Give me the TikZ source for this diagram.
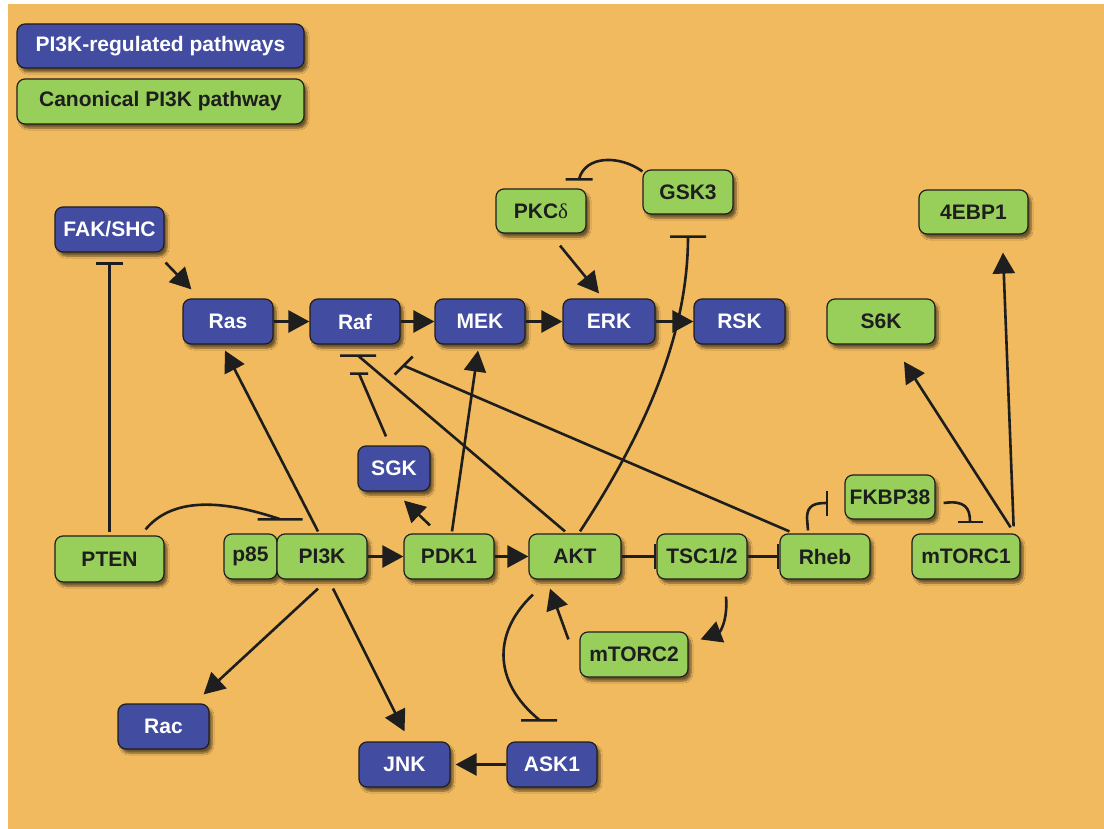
\documentclass[tikz,border=0pt]{standalone}
\usepackage{fontspec}
\setmainfont{Liberation Sans}
\newfontfamily\grk{Liberation Serif}
\usetikzlibrary{arrows.meta,calc,shadows.blur}
\definecolor{bg}{RGB}{241,186,94}
\definecolor{bluebox}{RGB}{66,76,160}
\definecolor{greenbox}{RGB}{152,207,90}
\definecolor{ink}{RGB}{30,30,30}
\tikzset{
  box/.style={draw=ink, line width=1.2pt, rounded corners=8pt, minimum height=45pt, minimum width=90pt,
    inner sep=0pt, font=\fontsize{21}{24}\selectfont\bfseries,
    blur shadow={shadow xshift=3pt, shadow yshift=-4pt, shadow blur steps=6, shadow opacity=55}},
  bb/.style={box, fill=bluebox, text=white},
  gb/.style={box, fill=greenbox, text=ink},
  ln/.style={draw=ink, line width=2.6pt},
  arr/.style={ln, -{Triangle[length=21pt,width=22pt]}},
  inh/.style={ln, -{Bar[width=25pt,line width=2.6pt]}}
}
\begin{document}
\begin{tikzpicture}[x=1pt,y=-1pt]
\useasboundingbox (0,0) rectangle (1104,829);
\fill[white] (0,0) rectangle (1104,829);
\fill[bg] (7.5,4.5) rectangle (1104,829);

% legend
\node[bb, minimum width=287pt, minimum height=44pt] (leg1) at (160.5,46) {PI3K-regulated pathways};
\node[gb, minimum width=287pt] (leg2) at (160.5,101.5) {Canonical PI3K pathway};

% nodes
\node[bb, minimum width=109pt] (fak) at (109.5,229.5) {FAK/SHC};
\node[bb] (ras) at (228,321.5) {Ras};
\node[bb] (raf) at (355,321.5) {Raf};
\node[bb] (mek) at (480,321.5) {MEK};
\node[bb, minimum width=92pt] (erk) at (609,321.5) {ERK};
\node[bb, minimum width=91pt] (rsk) at (739.5,321.5) {RSK};
\node[gb, minimum height=44pt] (pkc) at (541,211) {PKC{\grk\mdseries δ}};
\node[gb, minimum height=44pt] (gsk) at (688,192) {GSK3};
\node[gb, minimum width=109pt, minimum height=44pt] (ebp) at (973.5,212) {4EBP1};
\node[gb, minimum width=108pt] (s6k) at (881,321.5) {S6K};
\node[bb, minimum width=72pt] (sgk) at (394,468.5) {SGK};
\node[gb, minimum width=109pt, minimum height=46pt] (pten) at (109.5,559) {PTEN};
\node[gb, minimum width=53pt] (p85) at (250.5,556.5) {p85};
\node[gb] (pi3k) at (322,556.5) {PI3K};
\node[gb] (pdk1) at (449,556.5) {PDK1};
\node[gb, minimum width=92pt] (akt) at (575,556.5) {AKT};
\node[gb] (tsc) at (702,556.5) {TSC1/2};
\node[gb] (rheb) at (825,556.5) {Rheb};
\node[gb, minimum height=44pt] (fkbp) at (890,497) {FKBP38};
\node[gb, minimum width=108pt] (mtorc1) at (966,556.5) {mTORC1};
\node[gb, minimum width=108pt] (mtorc2) at (634,654.5) {mTORC2};
\node[bb, minimum width=91pt] (rac) at (163.5,726.5) {Rac};
\node[bb, minimum width=91pt] (jnk) at (404.5,764.5) {JNK};
\node[bb] (ask1) at (552,764.5) {ASK1};

% MAPK chain
\draw[arr] ($(fak.south east)+(1,10)$) -- ($(ras.north west)+(9,-9)$);
\draw[arr] (ras.east) -- (raf.west);
\draw[arr] (raf.east) -- (mek.west);
\draw[arr] (mek.east) -- (erk.west);
\draw[arr] (erk.east) -- (rsk.west);
\draw[arr] ($(pkc.south)+(19,12)$) -- ($(erk.north)+(-10,-5)$);

% GSK3 -| PKCdelta
\draw[ln] ($(gsk.north west)+(0,2)$) .. controls (620,155) and (585,155) .. ($(pkc.north)+(38,-9)$)
  ++(-13.5,0) -- ++(27,0);
% AKT -| GSK3
\draw[ln] ($(akt.north)+(5,-2)$) .. controls (640,440) and (688,340) .. ($(gsk.south)+(0,22)$)
  ++(-18,0) -- ++(36,0);

% PI3K / PDK1 activations
\draw[arr] ($(pi3k.north)+(-4,-2)$) -- ($(ras.south)+(-3,6)$);
\draw[arr] ($(pdk1.north)+(3,-2)$) -- ($(mek.south)+(-2,6)$);
\draw[arr] ($(pdk1.north)+(-19,-8)$) -- ($(sgk.south)+(10,9)$);

% inhibitions of Raf
\draw[ln] ($(sgk.north)+(-8,-9)$) -- ($(raf.south)+(4,29)$) ++(-9,0) -- ++(18,0);
\draw[ln] ($(akt.north)+(-10,-2)$) -- ($(raf.south)+(3,11)$) ++(-18,0) -- ++(36,0);
\draw[ln] ($(rheb.north west)+(10,-2)$) -- ($(raf.south east)+(3,21)$) ++(-9,9) -- ++(18,-18);

% PTEN
\draw[ln] ($(pten.north)+(0,-3)$) -- ($(fak.south)+(0,11)$) ++(-13.5,0) -- ++(27,0);
\draw[ln] ($(pten.north east)+(-19,-6)$) .. controls (170,500) and (215,497) .. ($(p85.north east)+(3,-14)$)
  ++(-23,0) -- ++(45,0);

% main chain
\draw[arr] (pi3k.east) -- (pdk1.west);
\draw[arr] (pdk1.east) -- (akt.west);
\draw[inh] (akt.east) -- (tsc.west);
\draw[inh] (tsc.east) -- (rheb.west);

% Rheb / FKBP38 / mTORC1
\draw[inh] ($(rheb.north)+(-17,-3)$) -- (807,518) .. controls (807,505) and (815,503) .. ($(fkbp.west)+(-16,6)$);
\draw[inh] ($(fkbp.east)+(8,6)$) .. controls (965,500) and (970,508) .. ($(mtorc1.north)+(4,-10)$);
\draw[arr] ($(mtorc1.north east)+(-10,-6)$) -- ($(s6k.south)+(23,17)$);
\draw[arr] ($(mtorc1.north east)+(-7,-7)$) -- ($(ebp.south)+(29.5,18)$);

% mTORC2
\draw[arr] ($(tsc.south)+(24,17)$) .. controls (728,620) and (720,632) .. ($(mtorc2.north east)+(12,8)$);
\draw[arr] ($(mtorc2.north west)+(-11,8)$) -- ($(akt.south)+(-25,9)$);

% AKT -| ASK1
\draw[ln] ($(akt.south)+(-42,15)$) .. controls (495,630) and (490,680) .. ($(ask1.north)+(-12,-21)$)
  ++(-19,0) -- ++(36,0);
\draw[arr, shorten >=5pt] (ask1.west) -- (jnk.east);

% PI3K downstream
\draw[arr] ($(pi3k.south)+(-4,9)$) -- ($(rac.north east)+(-6,-9)$);
\draw[arr] ($(pi3k.south)+(11,9)$) -- ($(jnk.north)+(0,-10)$);
\end{tikzpicture}
\end{document}
